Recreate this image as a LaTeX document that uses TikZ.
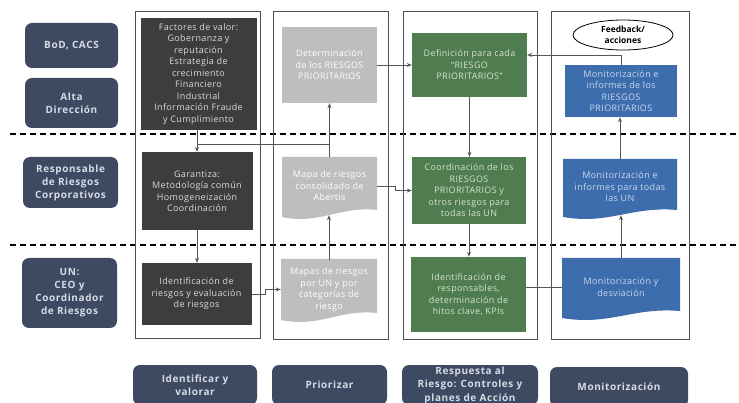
\documentclass[tikz,border=0pt]{standalone}
\usepackage{fontspec}
\setmainfont{Open Sans}
\newfontfamily\boxfont[LetterSpace=4]{Open Sans}
\newfontfamily\rolefont[LetterSpace=6]{Open Sans}
\usetikzlibrary{arrows.meta,shapes.geometric,calc}
\definecolor{rolefill}{HTML}{3E4A62}
\definecolor{roletext}{HTML}{D6DBE6}
\definecolor{darkfill}{HTML}{3D3D3D}
\definecolor{darktext}{HTML}{DADADA}
\definecolor{grayfill}{HTML}{BEBEBE}
\definecolor{greenfill}{HTML}{4F7D50}
\definecolor{greentext}{HTML}{D3E3CF}
\definecolor{bluefill}{HTML}{3D6DAD}
\definecolor{bluetext}{HTML}{C9D7EE}
\definecolor{framecol}{HTML}{505050}
\definecolor{conncol}{HTML}{555555}
\newcommand\docfill[5]{\fill[#5] (#1,#2) -- (#3,#2) -- (#3,{#4-10}) .. controls ({#3-0.4*(#3-#1)},{#4-14}) and ({#1+0.4*(#3-#1)},{#4+5}) .. (#1,{#4-3}) -- cycle;}
\begin{document}
\begin{tikzpicture}[x=1pt,y=-1pt,
  rolebox/.style={fill=rolefill, rounded corners=7pt, text=roletext, align=center, inner sep=0pt,
    font=\rolefont\bfseries\fontsize{10}{13}\selectfont},
  box/.style={align=center, inner sep=0pt, font=\boxfont\fontsize{9}{11.5}\selectfont},
  darkbox/.style={box, fill=darkfill, text=darktext},
  graybox/.style={box, fill=grayfill, text=white},
  greenbox/.style={box, fill=greenfill, text=greentext},
  bluebox/.style={box, fill=bluefill, text=bluetext},
  phasebox/.style={rolebox, minimum height=40, font=\rolefont\bfseries\fontsize{10}{13.5}\selectfont},
  frame/.style={draw=framecol, line width=0.8pt},
  conn/.style={draw=conncol, line width=0.8pt},
  arr/.style={conn, -{Stealth[length=5pt,width=4pt]}},
  dashline/.style={draw=black, line width=1.3pt, dash pattern=on 6pt off 4pt}]
\useasboundingbox (0,0) rectangle (739,403);
\clip (0,0) rectangle (739,403);
\fill[white] (0,0) rectangle (739,403);

% role boxes
\node[rolebox, minimum width=93, minimum height=45] (bod) at (71.5,45.5) {BoD, CACS};
\node[rolebox, minimum width=93, minimum height=50] (alta) at (71.5,103) {Alta\\Dirección};
\node[rolebox, minimum width=95, minimum height=51] (resp) at (70.5,182.5) {Responsable\\de Riesgos\\Corporativos};
\node[rolebox, minimum width=95, minimum height=70] (un) at (69.5,293) {UN:\\CEO y\\Coordinador\\de Riesgos};

% dashed separators
\draw[dashline] (10,134) -- (739,134);
\draw[dashline] (10,245) -- (739,245);

% column frames
\draw[frame] (135,11) rectangle (260,338);
\draw[frame] (273,11) rectangle (388,339);
\draw[frame] (403,11) rectangle (537,339);
\draw[frame] (551,11) rectangle (689,339);

% column 1
\node[darkbox, minimum width=116, minimum height=112] (f1) at (198.5,74) {Factores de valor:\\Gobernanza y\\reputación\\Estrategia de\\crecimiento\\Financiero\\Industrial\\Información Fraude\\y Cumplimiento};
\node[darkbox, minimum width=111, minimum height=78] (f2) at (197,191) {Garantiza:\\Metodología común\\Homogeneización\\Coordinación};
\node[darkbox, minimum width=110, minimum height=62] (f3) at (196.5,294) {Identificación de\\riesgos y evaluación\\de riesgos};

% column 2
\node[graybox, minimum width=95, minimum height=76] (g1) at (329.5,65) {Determinación\\de los RIESGOS\\PRIORITARIOS};
\docfill{282}{157}{377}{220}{grayfill}
\node[box, text=white, minimum width=95, minimum height=58] (g2) at (329.5,186) {Mapa de riesgos\\consolidado de\\Abertis};
\docfill{281}{259}{377}{323}{grayfill}
\node[box, text=white, minimum width=96, minimum height=59] (g3) at (329,289.5) {Mapas de riesgos\\por UN y por\\categorías de\\riesgo};

% column 3
\node[greenbox, minimum width=115, minimum height=64] (d1) at (469.5,65) {Definición para cada\\“RIESGO\\PRIORITARIOS”};
\node[greenbox, minimum width=114, minimum height=67] (d2) at (469,190.5) {Coordinación de los\\RIESGOS\\PRIORITARIOS y\\otros riesgos para\\todas las UN};
\node[greenbox, minimum width=115, minimum height=75] (d3) at (468.5,294.5) {Identificación de\\responsables,\\determinación de\\hitos clave, KPIs};

% column 4
\node[ellipse, draw=black, line width=0.8pt, fill=white, minimum width=100, minimum height=30, inner sep=0pt, align=center,
  font=\bfseries\fontsize{8.5}{10.5}\selectfont] (fb) at (623,35) {Feedback/\\acciones};
\node[bluebox, minimum width=112, minimum height=52] (m1) at (621,91) {Monitorización e\\informes de los\\RIESGOS\\PRIORITARIOS};
\docfill{563}{159}{677}{220}{bluefill}
\node[box, text=bluetext, minimum width=114, minimum height=56] (m2) at (620,187) {Monitorización e\\informes para todas\\las UN};
\docfill{562}{258}{680}{321}{bluefill}
\node[box, text=bluetext, minimum width=118, minimum height=58] (m3) at (621,287) {Monitorización y\\desviación};

% bottom phase labels
\node[phasebox, minimum width=124] (p1) at (195,385) {Identificar y\\valorar};
\node[phasebox, minimum width=115] (p2) at (329.5,385) {Priorizar};
\node[phasebox, minimum width=136] (p3) at (470,385) {Respuesta al\\Riesgo: Controles y\\planes de Acción};
\node[phasebox, minimum width=138] (p4) at (619,387) {Monitorización};

% connectors
\coordinate (j1) at (197,144);
\coordinate (fbl) at (620,55);
\draw[arr] (f1.south -| f2.north) -- (f2.north);
\draw[conn] (j1) -- (j1 -| g1.south);
\draw[arr] (f2.south) -- (f2.south |- f3.north);
\draw[arr] (f3.east) -- ++(14,0) |- (g3.west);
\draw[arr] (g3.north) -- (g3.north |- g2.south);
\draw[arr] (g2.north) -- (g1.south);
\draw[arr] (g1.east) -- (d1.west);
\draw[arr] (g2.east) -- ++(18,0) |- (d2.west);
\draw[arr] (d1.south) -- (d1.south |- d2.north);
\draw[arr] (d2.south) -- (d2.south |- d3.north);
\draw[conn] (m3.west -| d3.east) -- (m3.west);
\draw[arr] (m3.north) -- (m3.north |- m2.south);
\draw[arr] (m2.north) -- (m2.north |- m1.south);
\draw[arr] (m1.north) |- (d1.east |- fbl);
\end{tikzpicture}
\end{document}
